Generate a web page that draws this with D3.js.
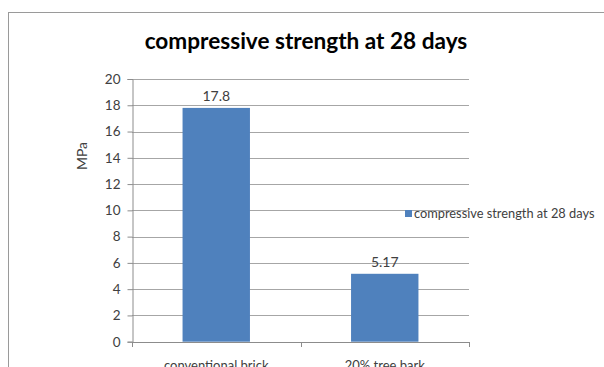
<!DOCTYPE html>
<html>
<head>
<meta charset="utf-8">
<script src="https://cdn.jsdelivr.net/npm/d3@7/dist/d3.min.js"></script>
<style>
  html, body { margin: 0; padding: 0; background: #fff; }
  svg { display: block; }
</style>
</head>
<body>
<svg id="chart" width="604" height="367"></svg>
<script>
// Compressive strength results
const categories = ["conventional brick", "20% tree bark"];
const values = [17.8, 5.17];
const valueLabels = ["17.8", "5.17"];
const yTicks = [0, 2, 4, 6, 8, 10, 12, 14, 16, 18, 20];
const seriesName = "compressive strength at 28 days";
const chartTitle = "compressive strength at 28 days";
const yTitle = "MPa";

const svg = d3.select("#chart");
const font = "Lato, 'Open Sans', sans-serif";

// chart area frame
svg.append("rect")
  .attr("x", 8.5).attr("y", 12.5)
  .attr("width", 620).attr("height", 400)
  .attr("fill", "#fff").attr("stroke", "#9a9a9a").attr("stroke-width", 1);

const plot = { left: 132, right: 469, top: 79, bottom: 341.7 };

const x = d3.scaleBand().domain(categories)
  .range([plot.left, plot.right]).paddingInner(0.6).paddingOuter(0.3);
const xEdge = d3.scaleLinear().domain([0, categories.length]).range([plot.left, plot.right]);
const y = d3.scaleLinear().domain([0, 20]).range([plot.bottom, plot.top]);

// horizontal gridlines
svg.append("g").selectAll("line").data(yTicks.filter(t => t > 0)).join("line")
  .attr("x1", plot.left).attr("x2", plot.right)
  .attr("y1", d => Math.round(y(d)) + 0.5).attr("y2", d => Math.round(y(d)) + 0.5)
  .attr("stroke", "#a6a6a6").attr("stroke-width", 1);

// y axis
const yAxis = svg.append("g")
  .attr("transform", `translate(${plot.left + 0.5},0)`)
  .call(d3.axisLeft(y).tickValues(yTicks).tickSize(5).tickPadding(7));
yAxis.select(".domain").attr("stroke", "#8c8c8c");
yAxis.selectAll(".tick line").attr("stroke", "#8c8c8c");
yAxis.selectAll(".tick text").attr("fill", "#404040")
  .style("font-family", font).style("font-size", "13.5px");

// x axis baseline with category boundary ticks
const xg = svg.append("g");
xg.append("line")
  .attr("x1", plot.left).attr("x2", plot.right)
  .attr("y1", Math.round(plot.bottom) + 0.5).attr("y2", Math.round(plot.bottom) + 0.5)
  .attr("stroke", "#8c8c8c");
xg.selectAll("line.tk").data(d3.range(categories.length + 1)).join("line")
  .attr("class", "tk")
  .attr("x1", d => Math.round(xEdge(d)) + 0.5).attr("x2", d => Math.round(xEdge(d)) + 0.5)
  .attr("y1", Math.round(plot.bottom)).attr("y2", Math.round(plot.bottom) + 5)
  .attr("stroke", "#8c8c8c");
xg.selectAll("text").data(categories).join("text")
  .attr("x", d => x(d) + x.bandwidth() / 2)
  .attr("y", 370)
  .attr("text-anchor", "middle")
  .attr("fill", "#404040")
  .style("font-family", font).style("font-size", "13px")
  .text(d => d);

// bars
svg.append("g").selectAll("rect").data(values).join("rect")
  .attr("x", (d, i) => x(categories[i]))
  .attr("width", x.bandwidth())
  .attr("y", d => y(d))
  .attr("height", d => y(0) - y(d))
  .attr("fill", "#4f81bd");

// value labels
svg.append("g").selectAll("text").data(values).join("text")
  .attr("x", (d, i) => x(categories[i]) + x.bandwidth() / 2)
  .attr("y", d => y(d) - 7)
  .attr("text-anchor", "middle")
  .attr("fill", "#404040")
  .style("font-family", font).style("font-size", "14px")
  .text((d, i) => valueLabels[i]);

// y axis title
svg.append("text")
  .attr("transform", `translate(87,156) rotate(-90)`)
  .attr("text-anchor", "middle")
  .attr("fill", "#404040")
  .style("font-family", font).style("font-size", "14px")
  .text(yTitle);

// chart title
svg.append("text")
  .attr("x", 306).attr("y", 49)
  .attr("text-anchor", "middle")
  .attr("fill", "#000")
  .style("font-family", font).style("font-size", "22.6px").style("font-weight", "bold")
  .text(chartTitle);

// legend
const lg = svg.append("g");
lg.append("rect").attr("x", 405).attr("y", 210).attr("width", 7).attr("height", 7).attr("fill", "#4f81bd");
lg.append("text").attr("x", 414).attr("y", 217.5)
  .attr("fill", "#404040")
  .style("font-family", font).style("font-size", "12.8px")
  .text(seriesName);
</script>
</body>
</html>
